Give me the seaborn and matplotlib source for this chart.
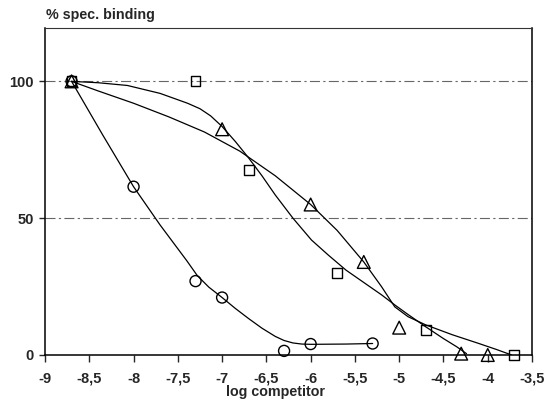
import numpy as np
import pandas as pd
import matplotlib
matplotlib.use("Agg")
import matplotlib.pyplot as plt
import seaborn as sns

# measured points
circle_x = [-8.7, -8.0, -7.3, -7.0, -6.3, -6.0, -5.3]
circle_y = [100, 61.5, 27, 21, 1.5, 4, 4.2]
square_x = [-8.7, -7.3, -6.7, -5.7, -4.7, -3.7]
square_y = [100, 100, 67.5, 30, 9, 0]
triangle_x = [-8.7, -7.0, -6.0, -5.4, -5.0, -4.3, -4.0]
triangle_y = [100, 82.5, 55, 34, 10, 0.5, 0]

# fitted curves
curve_c_x = [-8.7, -8.35, -8.0, -7.7, -7.4, -7.28, -7.15, -7.0, -6.85, -6.7, -6.55, -6.4,
             -6.3, -6.2, -6.1, -6.0, -5.6, -5.3]
curve_c_y = [100, 80.5, 61.5, 47.5, 34.5, 29, 24.8, 21, 17, 13.3, 9.8, 6.8,
             5.3, 4.4, 4.0, 3.9, 4.0, 4.2]
curve_t_x = [-8.7, -8.4, -8.07, -7.7, -7.39, -7.25, -7.13, -7.0, -6.85, -6.7, -6.55, -6.4,
             -6.2, -5.99, -5.8, -5.6, -5.4, -5.2, -5.05, -4.9, -4.7, -4.5, -4.35, -4.24]
curve_t_y = [100, 99.5, 98.5, 95.6, 92, 90, 87.4, 83.5, 78, 72, 65.5, 58.5,
             50, 42, 36.5, 31, 26.5, 22, 18.3, 14.8, 10.3, 6, 3, 0.5]
curve_s_x = [-8.7, -8.4, -8.0, -7.6, -7.2, -6.8, -6.4, -6.0, -5.7, -5.4, -5.2, -5.05,
             -4.9, -4.7, -4.4, -4.1, -3.9, -3.73]
curve_s_y = [100, 96.5, 92, 87, 81.5, 74.5, 65.5, 55, 45.5, 34, 25, 17.6,
             14, 11, 7.4, 4.2, 2.0, 0]

xticks = [-9, -8.5, -8, -7.5, -7, -6.5, -6, -5.5, -5, -4.5, -4, -3.5]
xtick_labels = ["-9", "-8,5", "-8", "-7,5", "-7", "-6,5", "-6", "-5,5", "-5", "-4,5", "-4", "-3,5"]
yticks = [0, 50, 100]

sns.set_style("ticks")
plt.rcParams["font.family"] = ["Liberation Sans", "DejaVu Sans"]
plt.rcParams["font.weight"] = "bold"

fig = plt.figure(figsize=(5.47, 4.0), dpi=100)
ax = fig.add_axes([0.0823, 0.1125, 0.8903, 0.8175])

for yv in [50, 100]:
    ax.axhline(yv, color="#666666", lw=0.8, ls=(0, (9, 3, 2, 3)), zorder=1)

for cx, cy in [(curve_c_x, curve_c_y), (curve_t_x, curve_t_y), (curve_s_x, curve_s_y)]:
    df = pd.DataFrame({"x": cx, "y": cy})
    sns.lineplot(data=df, x="x", y="y", sort=False, color="black", lw=0.9, ax=ax, zorder=2)

for px, py, mk, size in [(circle_x, circle_y, "o", 63), (square_x, square_y, "s", 50),
                         (triangle_x, triangle_y, "^", 85)]:
    df = pd.DataFrame({"x": px, "y": py})
    sns.scatterplot(data=df, x="x", y="y", marker=mk, s=size, facecolors="none",
                    edgecolors="black", linewidth=1.0, ax=ax, zorder=3, clip_on=False)

ax.set_xlim(-9, -3.5)
ax.set_ylim(0, 119.5)
ax.set_xticks(xticks)
ax.set_xticklabels(xtick_labels)
ax.set_yticks(yticks)
ax.tick_params(axis="x", direction="out", length=5, width=1, pad=7, labelsize=10.5)
ax.tick_params(axis="y", direction="out", length=4, width=1, pad=4, labelsize=10.5)
for lab in ax.get_xticklabels() + ax.get_yticklabels():
    lab.set_fontweight("bold")

for side in ["left", "bottom", "right"]:
    ax.spines[side].set_linewidth(1.1)
    ax.spines[side].set_color("black")
ax.spines["top"].set_linewidth(0.8)
ax.spines["top"].set_color("#333333")

ax.set_xlabel("")
ax.set_ylabel("")
fig.text(276 / 547, 1 - 392 / 400, "log competitor", ha="center", va="center",
         fontsize=10.3, fontweight="bold")
fig.text(46 / 547, 1 - 15 / 400, "% spec. binding", ha="left", va="center",
         fontsize=10.3, fontweight="bold")

fig.savefig("out.png", dpi=100)
